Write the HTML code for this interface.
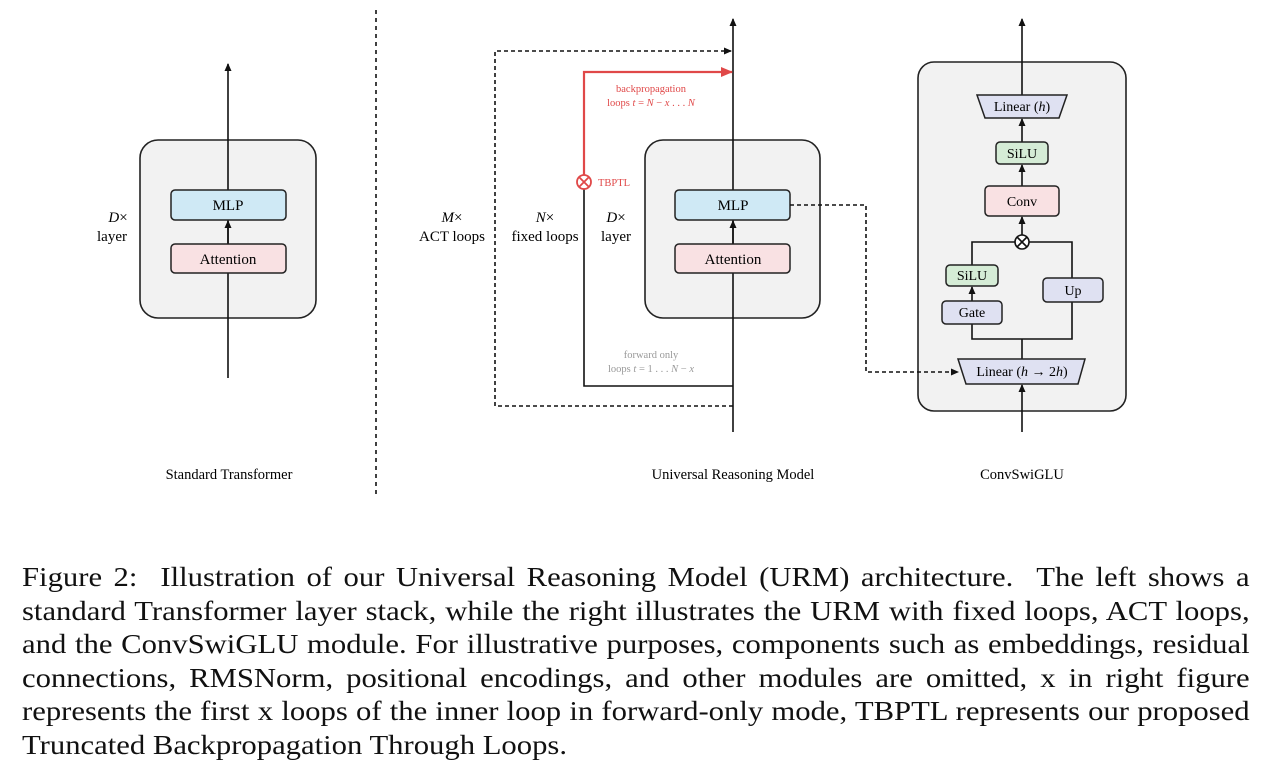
<!DOCTYPE html>
<html><head><meta charset="utf-8"><style>
body{margin:0;width:1280px;height:776px;background:#fff;overflow:hidden;position:relative;font-family:"Liberation Serif",serif}
svg{position:absolute;left:0;top:0}
.cap{position:absolute;left:22px;width:1101px;font-size:27.5px;line-height:33.6px;color:#111;transform:scaleX(1.115);transform-origin:0 0}
.cap div{text-align:justify;text-align-last:justify;white-space:nowrap;height:33.6px}
.cap div.l{text-align-last:left}
</style></head><body>
<svg width="1280" height="540" viewBox="0 0 1280 540" font-family="Liberation Serif, serif">
<defs>
<marker id="a" markerWidth="8" markerHeight="8" refX="7" refY="4" orient="auto" markerUnits="userSpaceOnUse"><path d="M0,0.5 L8,4 L0,7.5 Z" fill="#111"/></marker>
<marker id="r" markerWidth="12" markerHeight="10" refX="11" refY="5" orient="auto" markerUnits="userSpaceOnUse"><path d="M0,0 L12,5 L0,10 Z" fill="#e04848"/></marker>
</defs>
<!-- left -->
<rect x="140" y="140" width="176" height="178" rx="18" fill="#f2f2f2" stroke="#222" stroke-width="1.6"/>
<line x1="228" y1="378" x2="228" y2="64" stroke="#111" stroke-width="1.6" marker-end="url(#a)"/>
<line x1="228" y1="244" x2="228" y2="221" stroke="#111" stroke-width="1.6" marker-end="url(#a)"/>
<rect x="171" y="190" width="115" height="30" rx="4" fill="#cfe9f5" stroke="#222" stroke-width="1.5"/>
<rect x="171" y="244" width="115" height="29" rx="4" fill="#f9e1e3" stroke="#222" stroke-width="1.5"/>
<text x="228" y="210" font-size="15" text-anchor="middle">MLP</text>
<text x="228" y="264" font-size="15" text-anchor="middle">Attention</text>
<text x="118" y="222" font-size="15" text-anchor="middle"><tspan font-style="italic">D</tspan>×</text>
<text x="112" y="241" font-size="15" text-anchor="middle">layer</text>
<text x="229" y="479" font-size="14.5" text-anchor="middle">Standard Transformer</text>
<line x1="376" y1="10" x2="376" y2="495" stroke="#111" stroke-width="1.6" stroke-dasharray="4,4"/>
<!-- middle -->
<rect x="645" y="140" width="175" height="178" rx="18" fill="#f2f2f2" stroke="#222" stroke-width="1.6"/>
<line x1="733" y1="432" x2="733" y2="19" stroke="#111" stroke-width="1.6" marker-end="url(#a)"/>
<line x1="733" y1="244" x2="733" y2="221" stroke="#111" stroke-width="1.6" marker-end="url(#a)"/>
<rect x="675" y="190" width="115" height="30" rx="4" fill="#cfe9f5" stroke="#222" stroke-width="1.5"/>
<rect x="675" y="244" width="115" height="29" rx="4" fill="#f9e1e3" stroke="#222" stroke-width="1.5"/>
<text x="733" y="210" font-size="15" text-anchor="middle">MLP</text>
<text x="733" y="264" font-size="15" text-anchor="middle">Attention</text>
<polyline points="733,406 495,406 495,51 731,51" fill="none" stroke="#111" stroke-width="1.6" stroke-dasharray="4,3" marker-end="url(#a)"/>
<polyline points="584,175 584,72 732,72" fill="none" stroke="#e04848" stroke-width="2.2" marker-end="url(#r)"/>
<polyline points="584,189 584,386 733,386" fill="none" stroke="#111" stroke-width="1.6"/>
<circle cx="584" cy="182" r="7" fill="#fff" stroke="#e04848" stroke-width="1.8"/>
<path d="M579,177 L589,187 M589,177 L579,187" stroke="#e04848" stroke-width="1.8"/>
<text x="598" y="186" font-size="10.5" fill="#e04848">TBPTL</text>
<text x="651" y="92" font-size="10.5" fill="#e04848" text-anchor="middle">backpropagation</text>
<text x="651" y="106" font-size="10.5" fill="#e04848" text-anchor="middle">loops <tspan font-style="italic">t</tspan> = <tspan font-style="italic">N</tspan> − <tspan font-style="italic">x</tspan> . . . <tspan font-style="italic">N</tspan></text>
<text x="651" y="358" font-size="10.5" fill="#999" text-anchor="middle">forward only</text>
<text x="651" y="372" font-size="10.5" fill="#999" text-anchor="middle">loops <tspan font-style="italic">t</tspan> = 1 . . . <tspan font-style="italic">N</tspan> − <tspan font-style="italic">x</tspan></text>
<text x="452" y="222" font-size="15" text-anchor="middle"><tspan font-style="italic">M</tspan>×</text>
<text x="452" y="241" font-size="15" text-anchor="middle">ACT loops</text>
<text x="545" y="222" font-size="15" text-anchor="middle"><tspan font-style="italic">N</tspan>×</text>
<text x="545" y="241" font-size="15" text-anchor="middle">fixed loops</text>
<text x="616" y="222" font-size="15" text-anchor="middle"><tspan font-style="italic">D</tspan>×</text>
<text x="616" y="241" font-size="15" text-anchor="middle">layer</text>
<text x="733" y="479" font-size="14.5" text-anchor="middle">Universal Reasoning Model</text>
<!-- right -->
<rect x="918" y="62" width="208" height="349" rx="16" fill="#f2f2f2" stroke="#222" stroke-width="1.6"/>
<polyline points="790,205 866,205 866,372 958,372" fill="none" stroke="#111" stroke-width="1.6" stroke-dasharray="4,3" marker-end="url(#a)"/>
<line x1="1022" y1="95" x2="1022" y2="19" stroke="#111" stroke-width="1.6" marker-end="url(#a)"/>
<line x1="1022" y1="432" x2="1022" y2="385" stroke="#111" stroke-width="1.6" marker-end="url(#a)"/>
<line x1="1022" y1="359" x2="1022" y2="339" stroke="#111" stroke-width="1.6"/>
<polyline points="972,301 972,339 1072,339 1072,302" fill="none" stroke="#111" stroke-width="1.6"/>
<polyline points="972,265 972,242 1072,242 1072,278" fill="none" stroke="#111" stroke-width="1.6"/>
<line x1="972" y1="301" x2="972" y2="287" stroke="#111" stroke-width="1.6" marker-end="url(#a)"/>
<line x1="1022" y1="235" x2="1022" y2="217" stroke="#111" stroke-width="1.6" marker-end="url(#a)"/>
<line x1="1022" y1="186" x2="1022" y2="165" stroke="#111" stroke-width="1.6" marker-end="url(#a)"/>
<line x1="1022" y1="142" x2="1022" y2="119" stroke="#111" stroke-width="1.6" marker-end="url(#a)"/>
<polygon points="977,95 1067,95 1059,118 985,118" fill="#dfe1f2" stroke="#222" stroke-width="1.5"/>
<text x="1022" y="111" font-size="14" text-anchor="middle">Linear (<tspan font-style="italic">h</tspan>)</text>
<rect x="996" y="142" width="52" height="22" rx="4" fill="#d5ecd6" stroke="#222" stroke-width="1.5"/>
<text x="1022" y="158" font-size="14" text-anchor="middle">SiLU</text>
<rect x="985" y="186" width="74" height="30" rx="4" fill="#f9e1e3" stroke="#222" stroke-width="1.5"/>
<text x="1022" y="206" font-size="14" text-anchor="middle">Conv</text>
<circle cx="1022" cy="242" r="7" fill="#fff" stroke="#111" stroke-width="1.6"/>
<path d="M1017,237 L1027,247 M1027,237 L1017,247" stroke="#111" stroke-width="1.6"/>
<rect x="946" y="265" width="52" height="21" rx="4" fill="#d5ecd6" stroke="#222" stroke-width="1.5"/>
<text x="972" y="280" font-size="14" text-anchor="middle">SiLU</text>
<rect x="942" y="301" width="60" height="23" rx="4" fill="#dfe1f2" stroke="#222" stroke-width="1.5"/>
<text x="972" y="317" font-size="14" text-anchor="middle">Gate</text>
<rect x="1043" y="278" width="60" height="24" rx="4" fill="#dfe1f2" stroke="#222" stroke-width="1.5"/>
<text x="1073" y="295" font-size="14" text-anchor="middle">Up</text>
<polygon points="958,359 1085,359 1078,384 966,384" fill="#dfe1f2" stroke="#222" stroke-width="1.5"/>
<text x="1022" y="376" font-size="14" text-anchor="middle">Linear (<tspan font-style="italic">h</tspan> → 2<tspan font-style="italic">h</tspan>)</text>
<text x="1022" y="479" font-size="14.5" text-anchor="middle">ConvSwiGLU</text>
</svg>
<div class="cap" style="top:560px">
<div>Figure 2: &nbsp;Illustration of our Universal Reasoning Model (URM) architecture. &nbsp;The left shows a</div>
<div>standard Transformer layer stack, while the right illustrates the URM with fixed loops, ACT loops,</div>
<div>and the ConvSwiGLU module. For illustrative purposes, components such as embeddings, residual</div>
<div>connections, RMSNorm, positional encodings, and other modules are omitted, x in right figure</div>
<div>represents the first x loops of the inner loop in forward-only mode, TBPTL represents our proposed</div>
<div class="l">Truncated Backpropagation Through Loops.</div>
</div>
</body></html>
